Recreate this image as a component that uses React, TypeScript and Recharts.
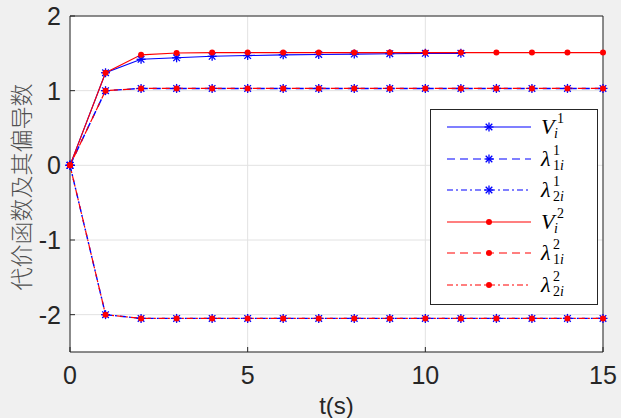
import React from 'react';
import { LineChart, Line, XAxis, YAxis, CartesianGrid } from 'recharts';

const time = [0, 1, 2, 3, 4, 5, 6, 7, 8, 9, 10, 11, 12, 13, 14, 15];
const V1 = [0, 1.24, 1.42, 1.44, 1.46, 1.47, 1.48, 1.485, 1.49, 1.495, 1.5, 1.5];
const L1_1 = [0, 1.0, 1.03, 1.03, 1.03, 1.03, 1.03, 1.03, 1.03, 1.03, 1.03, 1.03, 1.03, 1.03, 1.03, 1.03];
const L2_1 = [0, -2.0, -2.05, -2.05, -2.05, -2.05, -2.05, -2.05, -2.05, -2.05, -2.05, -2.05, -2.05, -2.05, -2.05, -2.05];
const V2 = [0, 1.24, 1.48, 1.505, 1.51, 1.51, 1.51, 1.51, 1.51, 1.51, 1.51, 1.51, 1.51, 1.51, 1.51, 1.51];
const L1_2 = [0, 1.0, 1.03, 1.03, 1.03, 1.03, 1.03, 1.03, 1.03, 1.03, 1.03, 1.03, 1.03, 1.03, 1.03, 1.03];
const L2_2 = [0, -2.0, -2.05, -2.05, -2.05, -2.05, -2.05, -2.05, -2.05, -2.05, -2.05, -2.05, -2.05, -2.05, -2.05, -2.05];

const xTicks = [0, 5, 10, 15];
const yTicks = [-2, -1, 0, 1, 2];

const data = time.map((t, i) => ({
  t,
  v1: V1[i] ?? null,
  l11: L1_1[i] ?? null,
  l21: L2_1[i] ?? null,
  v2: V2[i] ?? null,
  l12: L1_2[i] ?? null,
  l22: L2_2[i] ?? null,
}));

const BLUE = '#0000ff';
const RED = '#ff0000';
const AX = '#262626';
const FONT = '"Liberation Sans", Arial, Helvetica, sans-serif';
const DASH = '8 5';
const DASHDOT = '6 3 2 3';

const Asterisk = (props: any) => {
  const { cx, cy, key } = props;
  if (cx == null || cy == null) return <g key={key} />;
  const r = 4.5;
  const d = 3.3;
  return (
    <g key={key} stroke={BLUE} strokeWidth={1.3}>
      <line x1={cx - r} y1={cy} x2={cx + r} y2={cy} />
      <line x1={cx} y1={cy - r} x2={cx} y2={cy + r} />
      <line x1={cx - d} y1={cy - d} x2={cx + d} y2={cy + d} />
      <line x1={cx - d} y1={cy + d} x2={cx + d} y2={cy - d} />
    </g>
  );
};

const Point = (props: any) => {
  const { cx, cy, key } = props;
  if (cx == null || cy == null) return <g key={key} />;
  return <circle key={key} cx={cx} cy={cy} r={3} fill={RED} stroke="none" />;
};

const legendItems = [
  { color: BLUE, dash: undefined, marker: 'ast', main: 'V', sub: 'i', sup: '1' },
  { color: BLUE, dash: DASH, marker: 'ast', main: 'λ', sub: '1i', sup: '1' },
  { color: BLUE, dash: DASHDOT, marker: 'ast', main: 'λ', sub: '2i', sup: '1' },
  { color: RED, dash: undefined, marker: 'dot', main: 'V', sub: 'i', sup: '2' },
  { color: RED, dash: DASH, marker: 'dot', main: 'λ', sub: '1i', sup: '2' },
  { color: RED, dash: DASHDOT, marker: 'dot', main: 'λ', sub: '2i', sup: '2' },
];

const SERIF = '"Liberation Serif", "DejaVu Serif", serif';

const LegendBox = () => (
  <svg width={168} height={196} style={{ display: 'block' }}>
    <rect x={0.5} y={0.5} width={167} height={195} fill="#ffffff" stroke={AX} strokeWidth={1} />
    {legendItems.map((it, i) => {
      const y = Math.round(18 + i * 31.6);
      const mx = 59;
      return (
        <g key={i}>
          <line x1={17} y1={y} x2={101} y2={y} stroke={it.color} strokeWidth={1.2} strokeDasharray={it.dash} />
          {it.marker === 'ast' ? (
            <g stroke={BLUE} strokeWidth={1.3}>
              <line x1={mx - 4.5} y1={y} x2={mx + 4.5} y2={y} />
              <line x1={mx} y1={y - 4.5} x2={mx} y2={y + 4.5} />
              <line x1={mx - 3.3} y1={y - 3.3} x2={mx + 3.3} y2={y + 3.3} />
              <line x1={mx - 3.3} y1={y + 3.3} x2={mx + 3.3} y2={y - 3.3} />
            </g>
          ) : (
            <circle cx={mx} cy={y} r={3} fill={RED} />
          )}
          <text x={111} y={y + 7} fontFamily={SERIF} fontStyle="italic" fontSize={22} fill="#000">
            {it.main}
          </text>
          <text x={it.main === 'V' ? 127 : 123} y={y - 4} fontFamily={SERIF} fontSize={14} fill="#000">
            {it.sup}
          </text>
          <text x={it.main === 'V' ? 124 : 123} y={y + 11} fontFamily={SERIF} fontSize={14} fill="#000">
            {it.sub.length === 2 ? (
              <>
                <tspan>{it.sub[0]}</tspan>
                <tspan fontStyle="italic">{it.sub[1]}</tspan>
              </>
            ) : (
              <tspan fontStyle="italic">{it.sub}</tspan>
            )}
          </text>
        </g>
      );
    })}
  </svg>
);

export default function App() {
  return (
    <div style={{ position: 'absolute', left: 0, top: 0, width: 621, height: 418, background: '#f0f0f0' }}>
      <LineChart
        width={621}
        height={418}
        data={data}
        margin={{ top: 16, right: 18, bottom: 36, left: 0 }}
      >
        <CartesianGrid stroke="#e2e2e2" strokeWidth={1} fill="#ffffff" />
        <XAxis
          dataKey="t"
          type="number"
          domain={[0, 15]}
          ticks={xTicks}
          height={30}
          tickSize={-5}
          tickMargin={19}
          stroke={AX}
          tick={{ fill: AX, fontSize: 25, fontFamily: FONT }}
          label={{
            content: (p: any) => {
              const vb = p.viewBox || {};
              return (
                <text
                  x={vb.x + vb.width / 2}
                  y={405}
                  textAnchor="middle"
                  dominantBaseline="central"
                  fontSize={24}
                  fontFamily={FONT}
                  fill={AX}
                >
                  t(s)
                </text>
              );
            },
          }}
        />
        <YAxis
          type="number"
          domain={[-2.5, 2]}
          ticks={yTicks}
          width={70}
          tickSize={-5}
          tickMargin={14}
          stroke={AX}
          tick={{ fill: AX, fontSize: 25, fontFamily: FONT }}
          label={{
            content: (p: any) => {
              const vb = p.viewBox || {};
              const cx = 20;
              const cy = vb.y + vb.height / 2 + 3;
              return (
                <text
                  x={cx}
                  y={cy}
                  transform={`rotate(-90, ${cx}, ${cy})`}
                  textAnchor="middle"
                  dominantBaseline="central"
                  fontSize={23}
                  fontWeight={300}
                  fontFamily='"Noto Sans CJK SC", sans-serif'
                  fill="#505050"
                >
                  代价函数及其偏导数
                </text>
              );
            },
          }}
        />
        <XAxis
          xAxisId="top"
          orientation="top"
          dataKey="t"
          type="number"
          domain={[0, 15]}
          ticks={xTicks}
          mirror
          height={1}
          tick={false}
          tickSize={5}
          stroke={AX}
        />
        <YAxis
          yAxisId="right"
          orientation="right"
          type="number"
          domain={[-2.5, 2]}
          ticks={yTicks}
          mirror
          width={1}
          tick={false}
          tickSize={5}
          stroke={AX}
        />
        <Line dataKey="v1" stroke={BLUE} strokeWidth={1.1} dot={Asterisk} isAnimationActive={false} />
        <Line dataKey="l11" stroke={BLUE} strokeWidth={1.4} strokeDasharray={DASH} dot={Asterisk} isAnimationActive={false} />
        <Line dataKey="l21" stroke={BLUE} strokeWidth={1.4} strokeDasharray={DASHDOT} dot={Asterisk} isAnimationActive={false} />
        <Line dataKey="v2" stroke={RED} strokeWidth={1.1} dot={Point} isAnimationActive={false} />
        <Line dataKey="l12" stroke={RED} strokeWidth={1.2} strokeDasharray={DASH} strokeDashoffset={4} dot={Point} isAnimationActive={false} />
        <Line dataKey="l22" stroke={RED} strokeWidth={1.2} strokeDasharray={DASHDOT} strokeDashoffset={3} dot={Point} isAnimationActive={false} />
      </LineChart>
      <div style={{ position: 'absolute', left: 430, top: 109 }}>
        <LegendBox />
      </div>
    </div>
  );
}
